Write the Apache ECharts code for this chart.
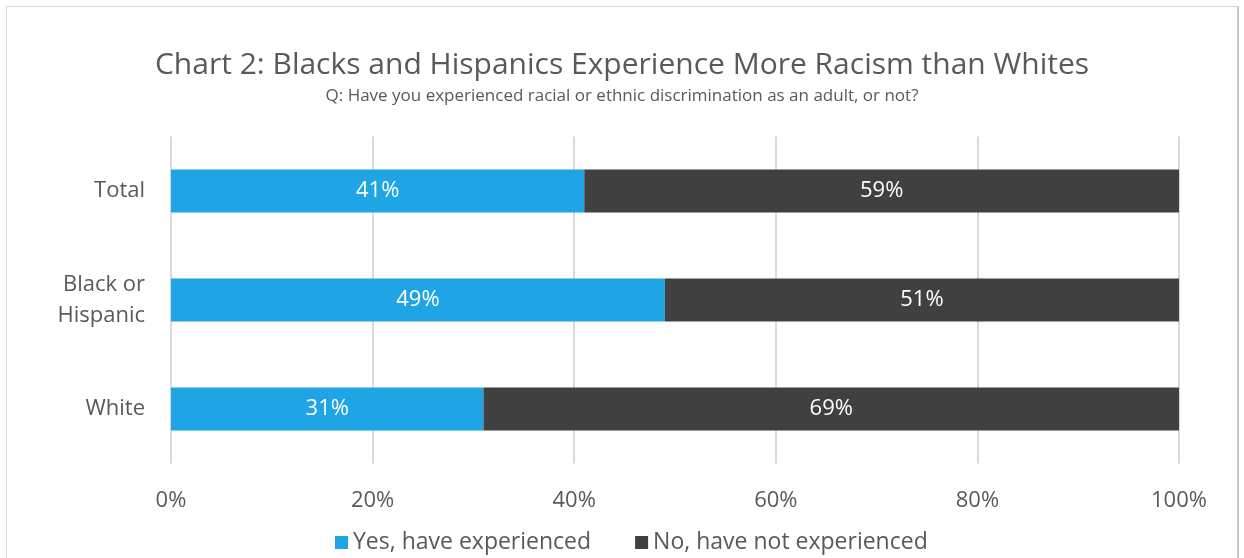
<!DOCTYPE html>
<html><head><meta charset="utf-8">
<script src="https://cdn.jsdelivr.net/npm/echarts@6/dist/echarts.min.js"></script>
<style>
html,body{margin:0;padding:0;background:#fff;}
#frame{position:absolute;left:6px;top:6px;width:1233px;height:600px;border:1px solid #d9d9d9;border-right:2px solid #c8c8c8;box-sizing:border-box;}
#main{position:absolute;left:0;top:0;width:1244px;height:558px;}
</style></head>
<body>
<div id="frame"></div>
<div id="main"></div>
<script>
var categories = ['Total', 'Black or\nHispanic', 'White'];
var yesValues = [41, 49, 31];
var noValues = [59, 51, 69];
var seriesNames = ['Yes, have experienced', 'No, have not experienced'];
var xTicks = [0, 20, 40, 60, 80, 100];

var FONT = '"Open Sans", "Noto Sans", sans-serif';
var chart = echarts.init(document.getElementById('main'), null, {renderer: 'canvas'});
chart.setOption({
  backgroundColor: 'transparent',
  animation: false,
  title: {
    text: 'Chart 2: Blacks and Hispanics Experience More Racism than Whites',
    subtext: 'Q: Have you experienced racial or ethnic discrimination as an adult, or not?',
    left: 'center', top: 45, itemGap: 8,
    textStyle: {fontFamily: FONT, fontSize: 30, fontWeight: 'normal', color: '#595959'},
    subtextStyle: {fontFamily: FONT, fontSize: 17, color: '#595959'}
  },
  legend: {
    bottom: -1, left: 330, itemWidth: 13, itemHeight: 13, itemGap: 44,
    icon: 'rect',
    textStyle: {fontFamily: FONT, fontSize: 23, color: '#595959'},
    data: seriesNames
  },
  grid: {left: 171, right: 65, top: 136.5, bottom: 94.5, containLabel: false},
  xAxis: {
    type: 'value', min: 0, max: 100, interval: 20,
    axisLine: {show: false}, axisTick: {show: false},
    splitLine: {lineStyle: {color: '#d9d9d9', width: 2}},
    axisLabel: {formatter: function(v){ return v + '%'; }, fontFamily: FONT, fontSize: 22, color: '#595959', margin: 26}
  },
  yAxis: {
    type: 'category', inverse: true, data: categories,
    axisLine: {show: false}, axisTick: {show: false},
    axisLabel: {fontFamily: FONT, fontSize: 22, color: '#595959', margin: 26, lineHeight: 31, align: 'right'}
  },
  series: [
    {name: seriesNames[0], type: 'bar', stack: 's', data: yesValues, barWidth: 43,
     itemStyle: {color: '#1fa5e6'},
     label: {show: true, position: 'inside', formatter: '{c}%', color: '#fff', fontFamily: FONT, fontSize: 22}},
    {name: seriesNames[1], type: 'bar', stack: 's', data: noValues, barWidth: 43,
     itemStyle: {color: '#404040'},
     label: {show: true, position: 'inside', formatter: '{c}%', color: '#fff', fontFamily: FONT, fontSize: 22}}
  ]
});
</script>
</body></html>
